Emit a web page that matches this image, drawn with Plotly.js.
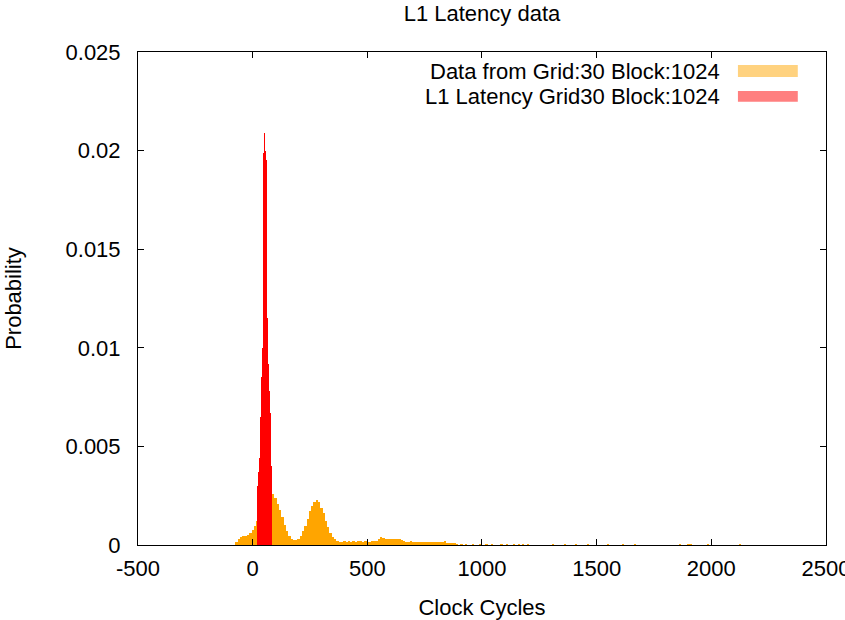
<!DOCTYPE html>
<html>
<head>
<meta charset="utf-8">
<script src="https://cdn.plot.ly/plotly-3.0.1.min.js"></script>
<style>
html,body{margin:0;padding:0;background:#fff;}
#chart{width:845px;height:620px;}
</style>
</head>
<body>
<div id="chart"></div>
<script>
// ---- data ----
const gridCycles = [
  -70,-60,-50,-40,-30,-20,-10,0,10,20,30,40,50,60,70,80,90,100,110,120,130,140,150,160,170,180,190,
  200,210,220,230,240,250,260,270,280,290,300,310,320,330,340,350,360,370,380,390,
  400,410,420,430,440,450,460,470,480,490,500,510,520,530,540,550,560,570,580,590,
  600,610,620,630,640,650,660,670,680,690,700,710,720,730,740,750,760,770,780,790,
  800,810,820,830,840,850,860,870,880,890,910,930,960,990,1020,1045,1085,1110,1140,1160,1180,1200,
  1310,1362,1410,1462,1550,1615,1667,1863,1900,1912,1985,2125
];
const gridProb = [
  0.00017,0.00030,0.00042,0.00045,0.00048,0.00050,0.00060,0.00075,0.00095,0.0012,0.0015,0.0018,0.0020,0.0022,0.0024,0.0026,0.0026,0.0024,0.0021,0.0018,0.0014,0.0010,0.0007,0.00045,0.00030,0.00025,0.00026,
  0.00030,0.00045,0.00070,0.00095,0.0013,0.0017,0.0020,0.0022,0.0023,0.0022,0.0019,0.0016,0.0012,0.0009,0.0006,0.0004,0.0003,0.00020,0.00017,0.00015,
  0.00018,0.00016,0.00020,0.00015,0.00018,0.00017,0.00022,0.00018,0.00016,0.00020,0.00018,0.00017,0.00019,0.00022,0.00020,0.00030,0.00042,0.00038,0.00030,0.00028,
  0.00030,0.00028,0.00032,0.00030,0.00029,0.00025,0.00020,0.00017,0.00016,0.00018,0.00017,0.00016,0.00017,0.00015,0.00016,0.00017,0.00016,0.00015,0.00017,0.00016,
  0.00015,0.00017,0.00016,0.00015,0.00022,0.00012,0.00008,0.00008,0.00008,0.00006,0.00005,0.00006,0.00004,0.00006,0.00004,0.00005,0.00005,0.00006,0.00005,0.00006,0.00005,0.00005,
  0.00004,0.00004,0.00006,0.00004,0.00005,0.00004,0.00004,0.00004,0.00005,0.00004,0.00004,0.00005
];
const l1Cycles = [20,24,28,32,36,40,44,48,52,56,60,64,68,72,76,80,84];
const l1Prob = [0.0030,0.0037,0.0044,0.0052,0.0065,0.0085,0.0100,0.0199,0.0209,0.0200,0.0195,0.0115,0.0092,0.0078,0.0067,0.0052,0.0040];

const xTickVals = [-500,0,500,1000,1500,2000,2500];
const xTickText = ['-500','0','500','1000','1500','2000','2500'];
const yTickVals = [0,0.005,0.01,0.015,0.02,0.025];
const yTickText = ['0','0.005','0.01','0.015','0.02','0.025'];
const legendNames = ['Data from Grid:30 Block:1024','L1 Latency Grid30 Block:1024'];

// ---- chart ----
const font = 'Liberation Sans, Arial, sans-serif';
const fs = 22;
const traces = [
  {type:'bar', x:gridCycles, y:gridProb, width:10, marker:{color:'#ffa500', line:{width:0}}, name:legendNames[0], showlegend:false, hoverinfo:'x+y'},
  {type:'bar', x:l1Cycles, y:l1Prob, width:4, marker:{color:'#ff0000', line:{width:0}}, name:legendNames[1], showlegend:false, hoverinfo:'x+y'}
];
const layout = {
  width:845, height:620,
  margin:{l:138, r:19, t:52, b:75},
  paper_bgcolor:'#fff', plot_bgcolor:'#fff',
  barmode:'overlay', bargap:0,
  font:{family:font, size:fs, color:'#000'},
  title:{text:'L1 Latency data', xref:'paper', x:0.5, xanchor:'center', y:1-13/620, yanchor:'middle', font:{family:font, size:fs, color:'#000'}},
  xaxis:{range:[-500,2500.05], tickvals:xTickVals, ticktext:xTickText, ticks:'inside', ticklen:6, tickcolor:'#000',
         showline:true, linecolor:'#000', linewidth:1, mirror:'ticks', showgrid:false, zeroline:false,
         ticklabelstandoff:4, ticklabeloverflow:'allow',
         title:{text:'Clock Cycles', standoff:19, font:{family:font, size:fs}}},
  yaxis:{range:[0,0.025], tickvals:yTickVals, ticktext:yTickText, ticks:'inside', ticklen:6, tickcolor:'#000',
         showline:true, linecolor:'#000', linewidth:1, mirror:'ticks', showgrid:false, zeroline:false,
         ticklabelstandoff:12,
         title:{text:'Probability', standoff:37, font:{family:font, size:fs}}},
  annotations:[
    {xref:'paper', yref:'paper', x:0.849, y:0.961, xanchor:'right', yanchor:'middle', text:legendNames[0], showarrow:false, font:{family:font, size:fs, color:'#000'}},
    {xref:'paper', yref:'paper', x:0.849, y:0.909, xanchor:'right', yanchor:'middle', text:legendNames[1], showarrow:false, font:{family:font, size:fs, color:'#000'}}
  ],
  shapes:[
    {type:'rect', xref:'paper', yref:'paper', x0:0.872, x1:0.959, y0:0.9493, y1:0.9736, fillcolor:'#ffd27f', line:{width:0}},
    {type:'rect', xref:'paper', yref:'paper', x0:0.872, x1:0.959, y0:0.899, y1:0.921, fillcolor:'#ff7f7f', line:{width:0}}
  ]
};
Plotly.newPlot('chart', traces, layout, {displayModeBar:false, staticPlot:true});
</script>
</body>
</html>
